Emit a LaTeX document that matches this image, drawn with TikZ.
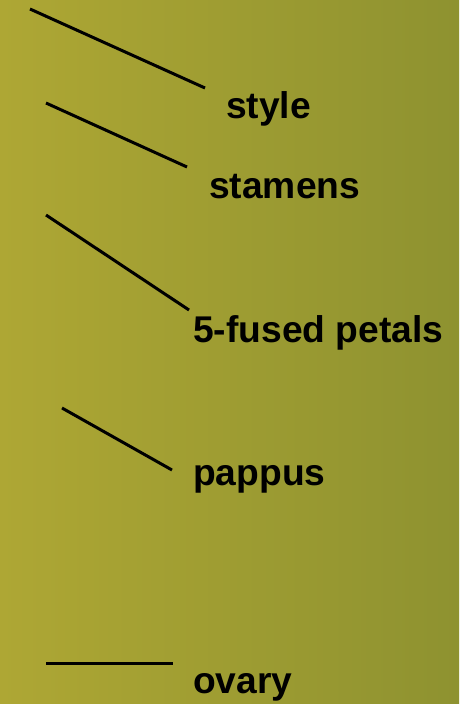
\documentclass[tikz,border=0pt]{standalone}
\usepackage{fontspec}
\setmainfont{Liberation Sans}
\definecolor{bgleft}{RGB}{174,167,52}
\definecolor{bgmid}{RGB}{160,158,52}
\definecolor{bgright}{RGB}{142,146,48}
\begin{document}
\begin{tikzpicture}[x=1pt,y=-1pt,
  partlabel/.style={anchor=base west,inner sep=0pt,font=\fontsize{37.2}{40}\selectfont\bfseries},
  pointer/.style={draw=black,line width=3pt}]
  % olive background, lighter on the left
  \shade[left color=bgleft, middle color=bgmid, right color=bgright]
    (0,0) rectangle (459,704);
  \useasboundingbox (0,0) rectangle (459,704);

  % part labels
  \node[partlabel] (style)   at (226,118) {style};
  \node[partlabel] (stamens) at (209,198) {stamens};
  \node[partlabel] (petals)  at (193,342) {5-fused petals};
  \node[partlabel] (pappus)  at (193,485) {pappus};
  \node[partlabel] (ovary)   at (193,693) {ovary};

  % pointer lines
  \coordinate (s1) at (30,9);    \coordinate (e1) at (205,88);
  \coordinate (s2) at (46,103);  \coordinate (e2) at (187,167);
  \coordinate (s3) at (46,215);  \coordinate (e3) at (189,310);
  \coordinate (s4) at (62,408);  \coordinate (e4) at (172,470);
  \coordinate (s5) at (46,663);  \coordinate (e5) at (173,663);
  \draw[pointer] (s1) -- (e1);
  \draw[pointer] (s2) -- (e2);
  \draw[pointer] (s3) -- (e3);
  \draw[pointer] (s4) -- (e4);
  \draw[pointer] (s5) -- (e5);
\end{tikzpicture}
\end{document}
